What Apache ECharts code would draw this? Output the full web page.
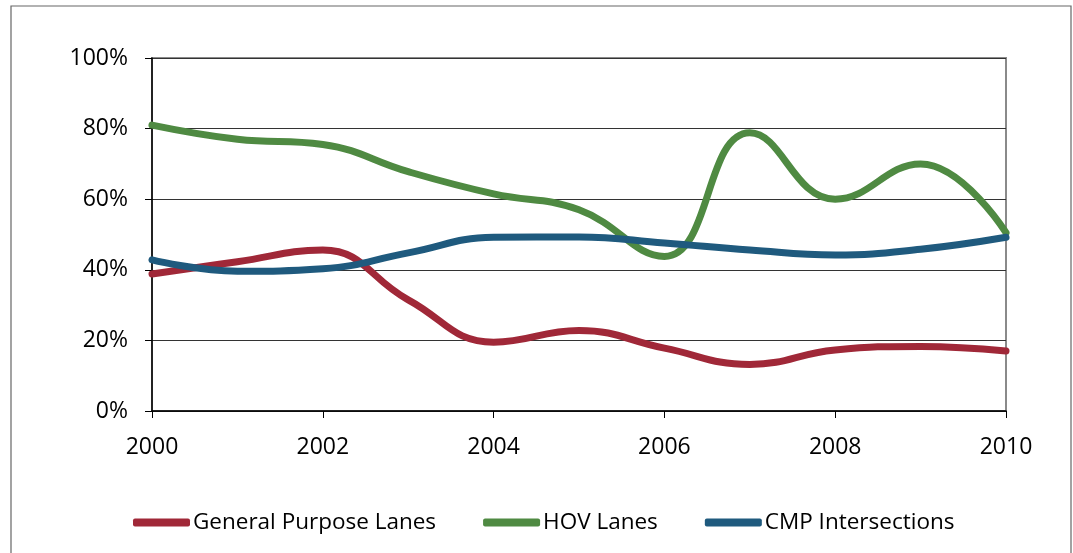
<!DOCTYPE html>
<html>
<head>
<meta charset="utf-8">
<script src="https://cdn.jsdelivr.net/npm/echarts@6/dist/echarts.min.js"></script>
<style>
html,body{margin:0;padding:0;background:#fff;}
#chart{width:1073px;height:553px;}
</style>
</head>
<body>
<div id="chart"></div>
<script>
const years = [2000, 2001, 2002, 2003, 2004, 2005, 2006, 2007, 2008, 2009, 2010];
const generalPurpose = [38.8, 42.3, 45.6, 31.5, 19.5, 22.8, 17.8, 13.2, 17.3, 18.3, 17.0];
const hovLanes = [81.0, 77.0, 75.5, 67.8, 61.5, 57.0, 43.8, 78.8, 60.0, 70.0, 50.5];
const cmpIntersections = [42.8, 39.6, 40.3, 44.8, 49.2, 49.3, 47.6, 45.6, 44.2, 45.8, 49.2];
const seriesNames = ['General Purpose Lanes', 'HOV Lanes', 'CMP Intersections'];
const yTicks = [0, 20, 40, 60, 80, 100];

const FONT = 'Open Sans';
const pairs = arr => years.map((y, i) => [y, arr[i]]);

const chart = echarts.init(document.getElementById('chart'), null, {renderer: 'canvas'});
const mk = (name, data, color) => ({
  name, type: 'line', data: pairs(data), smooth: 0.45,
  showSymbol: false, symbol: 'none',
  lineStyle: {width: 7, color, cap: 'round', join: 'round'},
  itemStyle: {color}
});
chart.setOption({
  animation: false,
  backgroundColor: '#fff',
  graphic: [{
    type: 'rect', shape: {x: 11, y: 6, width: 1060, height: 560},
    style: {fill: 'none', stroke: '#666', lineWidth: 1.2}, silent: true, z: -10
  }],
  grid: {left: 152, right: 67, top: 58, bottom: 142, show: true, borderColor: '#8a8a8a', borderWidth: 2, backgroundColor: 'transparent'},
  legend: {
    bottom: 14, left: 128,
    itemWidth: 57, itemHeight: 8, itemGap: 47, icon: 'roundRect',
    textStyle: {fontFamily: FONT, fontSize: 22.5, color: '#000', padding: [0, 0, 0, -2]},
    data: seriesNames
  },
  xAxis: {
    type: 'value', min: 2000, max: 2010, interval: 2,
    axisLine: {show: true, lineStyle: {color: '#000', width: 1.5}},
    axisTick: {show: true, length: 7, lineStyle: {color: '#000', width: 1}},
    axisLabel: {color: '#000', fontFamily: FONT, fontSize: 23, margin: 25, formatter: v => String(v)},
    splitLine: {show: false}
  },
  yAxis: {
    type: 'value', min: yTicks[0], max: yTicks[yTicks.length - 1], interval: 20,
    axisLine: {show: true, lineStyle: {color: '#000', width: 1.5}},
    axisTick: {show: true, length: 7, inside: false, lineStyle: {color: '#000', width: 1}},
    axisLabel: {color: '#000', fontFamily: FONT, fontSize: 23, margin: 24, formatter: '{value}%'},
    splitLine: {show: true, lineStyle: {color: '#333', width: 1}}
  },
  series: [
    mk(seriesNames[0], generalPurpose, '#A02838'),
    mk(seriesNames[1], hovLanes, '#4F8A42'),
    mk(seriesNames[2], cmpIntersections, '#1F5A7E')
  ]
});
</script>
</body>
</html>
